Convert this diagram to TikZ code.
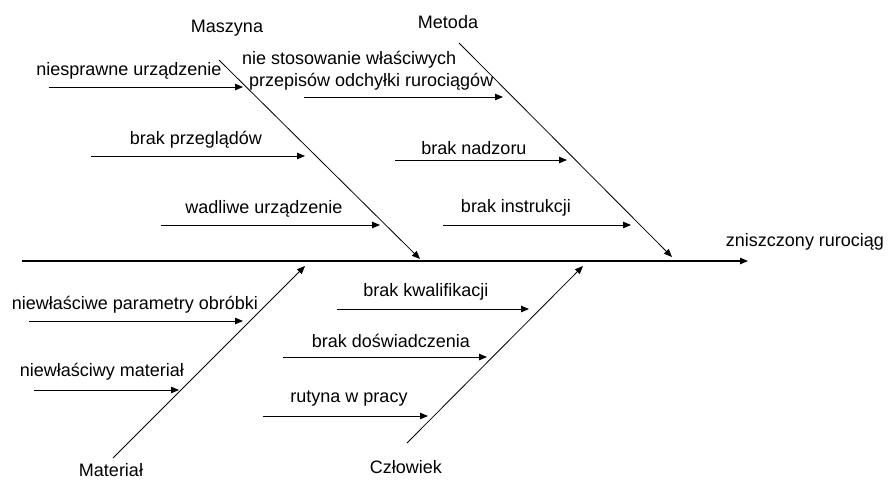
\documentclass[tikz,border=0pt]{standalone}
\usepackage{fontspec}
\setmainfont{Liberation Sans}
\usetikzlibrary{arrows.meta}
\begin{document}
\begin{tikzpicture}[x=1pt,y=-1pt,
  lbl/.style={inner sep=0pt,font=\fontsize{18}{21}\selectfont},
  arr/.style={line width=0.9pt,-{Triangle[length=8pt,width=6.5pt]}},
  bone/.style={line width=0.8pt,-{Triangle[length=8pt,width=6.5pt]}}]
\useasboundingbox[fill=white] (0,0) rectangle (888,480);
% spine
\coordinate (s0) at (22,261);
\coordinate (s1) at (748,261);
\draw[arr,line width=1.1pt] (s0) -- (s1);
\node[lbl] (effect) at (805,242) {zniszczony rurociąg};
% category labels
\node[lbl] (maszyna) at (227,28) {Maszyna};
\node[lbl] (metoda) at (448,22) {Metoda};
\node[lbl] (material) at (111,470) {Materiał};
\node[lbl] (czlowiek) at (406,467) {Człowiek};
% bones
\coordinate (m0) at (219,60); \coordinate (m1) at (420,259);
\coordinate (t0) at (459,43); \coordinate (t1) at (672,257);
\coordinate (a0) at (113,458); \coordinate (a1) at (305,266);
\coordinate (c0) at (407,443); \coordinate (c1) at (583,266);
\draw[bone] (m0) -- (m1);
\draw[bone] (t0) -- (t1);
\draw[bone] (a0) -- (a1);
\draw[bone] (c0) -- (c1);
% Maszyna causes
\node[lbl] (n1) at (129,71) {niesprawne urządzenie};
\coordinate (n1a) at (49,87); \coordinate (n1b) at (243,87);
\draw[arr] (n1a) -- (n1b);
\node[lbl] (n2) at (196,140) {brak przeglądów};
\coordinate (n2a) at (91,156); \coordinate (n2b) at (305,156);
\draw[arr] (n2a) -- (n2b);
\node[lbl] (n3) at (264,209) {wadliwe urządzenie};
\coordinate (n3a) at (161,225); \coordinate (n3b) at (380,225);
\draw[arr] (n3a) -- (n3b);
% Metoda causes
\node[lbl,anchor=west] (p1) at (242,60) {nie stosowanie właściwych};
\node[lbl,anchor=west] (p1b) at (249,82) {przepisów odchyłki rurociągów};
\coordinate (p1a) at (304,97); \coordinate (p1c) at (503,97);
\draw[arr] (p1a) -- (p1c);
\node[lbl] (p2) at (474,148) {brak nadzoru};
\coordinate (p2a) at (395,160); \coordinate (p2b) at (567,160);
\draw[arr] (p2a) -- (p2b);
\node[lbl] (p3) at (516,208) {brak instrukcji};
\coordinate (p3a) at (443,225); \coordinate (p3b) at (631,225);
\draw[arr] (p3a) -- (p3b);
% Materiał causes
\node[lbl] (r1) at (135,305) {niewłaściwe parametry obróbki};
\coordinate (r1a) at (29,321); \coordinate (r1b) at (243,321);
\draw[arr] (r1a) -- (r1b);
\node[lbl] (r2) at (102,372) {niewłaściwy materiał};
\coordinate (r2a) at (34,390); \coordinate (r2b) at (179,390);
\draw[arr] (r2a) -- (r2b);
% Człowiek causes
\node[lbl] (h1) at (426,292) {brak kwalifikacji};
\coordinate (h1a) at (337,309); \coordinate (h1b) at (529,309);
\draw[arr] (h1a) -- (h1b);
\node[lbl] (h2) at (391,341) {brak doświadczenia};
\coordinate (h2a) at (283,357); \coordinate (h2b) at (487,357);
\draw[arr] (h2a) -- (h2b);
\node[lbl] (h3) at (349,399) {rutyna w pracy};
\coordinate (h3a) at (263,416); \coordinate (h3b) at (428,416);
\draw[arr] (h3a) -- (h3b);
\end{tikzpicture}
\end{document}
